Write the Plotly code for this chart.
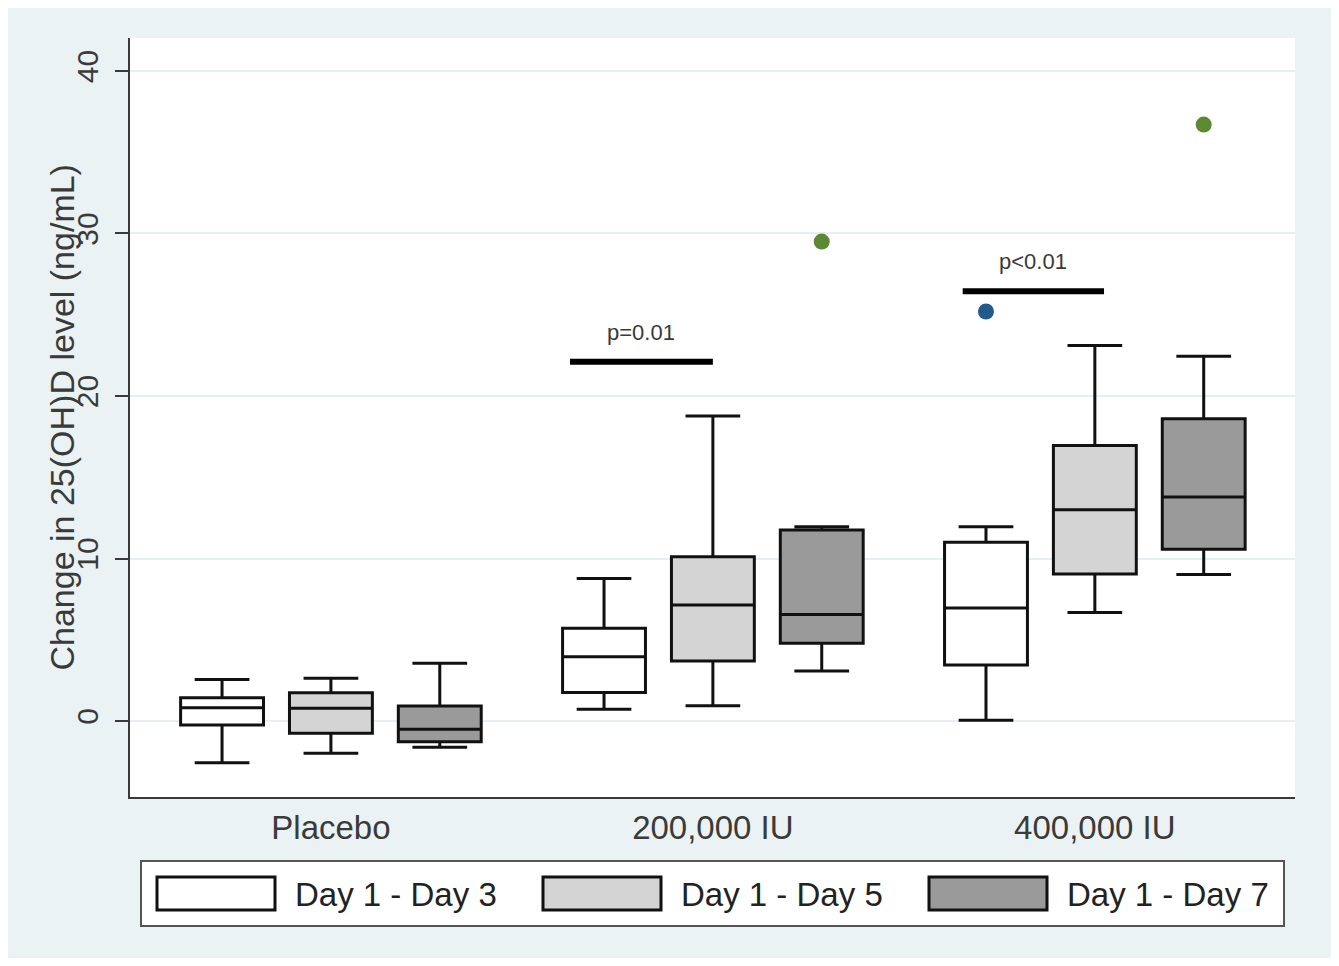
import plotly.graph_objects as go

# ---------------- data ----------------
groups = ["Placebo", "200,000 IU", "400,000 IU"]
series = ["Day 1 - Day 3", "Day 1 - Day 5", "Day 1 - Day 7"]
series_fill = ["#ffffff", "#d4d4d4", "#9a9a9a"]
series_outlier_color = ["#235a8c", "#90353b", "#5b8a32"]

day3_lower = [-2.57, 0.72, 0.05]
day3_q1 = [-0.25, 1.76, 3.45]
day3_median = [0.82, 3.96, 6.95]
day3_q3 = [1.43, 5.70, 11.0]
day3_upper = [2.56, 8.77, 11.95]

day5_lower = [-1.99, 0.94, 6.68]
day5_q1 = [-0.76, 3.69, 9.05]
day5_median = [0.78, 7.14, 13.0]
day5_q3 = [1.74, 10.11, 16.95]
day5_upper = [2.63, 18.77, 23.1]

day7_lower = [-1.62, 3.08, 9.02]
day7_q1 = [-1.27, 4.78, 10.57]
day7_median = [-0.51, 6.56, 13.78]
day7_q3 = [0.92, 11.75, 18.6]
day7_upper = [3.55, 11.96, 22.45]

# outliers: series index, group index, value
outlier_series = [2, 0, 2]
outlier_group = [1, 2, 2]
outlier_value = [29.5, 25.2, 36.7]

# significance bars (x in group units)
sig_x0 = [0.626, 1.654]
sig_x1 = [1.0, 2.024]
sig_y = [22.1, 26.45]
sig_label = ["p=0.01", "p<0.01"]
sig_label_y = [23.9, 28.25]

y_ticks = [0, 10, 20, 30, 40]
y_title = "Change in 25(OH)D level (ng/mL)"

# ---------------- layout constants ----------------
W, H = 1339, 966
ML, MR, MT, MB = 130, 44, 38, 169
PW, PH = W - ML - MR, H - MT - MB
offsets = [-0.285, 0.0, 0.285]
box_width = 0.217
FONT = "Liberation Sans, Arial, sans-serif"
TXT = "#3a3a3a"


def px(xp):
    return (xp - ML) / PW


def py(yp):
    return (H - MB - yp) / PH


stats = [
    (day3_lower, day3_q1, day3_median, day3_q3, day3_upper),
    (day5_lower, day5_q1, day5_median, day5_q3, day5_upper),
    (day7_lower, day7_q1, day7_median, day7_q3, day7_upper),
]

fig = go.Figure()
for i, name in enumerate(series):
    lo, q1, med, q3, up = stats[i]
    fig.add_trace(go.Box(
        name=name,
        x=[g + offsets[i] for g in range(len(groups))],
        lowerfence=lo, q1=q1, median=med, q3=q3, upperfence=up,
        width=box_width, whiskerwidth=0.66,
        fillcolor=series_fill[i],
        line=dict(color="#111111", width=3),
        boxpoints=False, showlegend=False, hoverinfo="skip",
    ))

fig.add_trace(go.Scatter(
    x=[outlier_group[k] + offsets[outlier_series[k]] for k in range(len(outlier_value))],
    y=outlier_value, mode="markers",
    marker=dict(size=16, color=[series_outlier_color[s] for s in outlier_series]),
    showlegend=False, hoverinfo="skip",
))

for k in range(len(sig_y)):
    fig.add_trace(go.Scatter(
        x=[sig_x0[k], sig_x1[k]], y=[sig_y[k], sig_y[k]], mode="lines",
        line=dict(color="#000000", width=6), showlegend=False, hoverinfo="skip",
    ))
    fig.add_annotation(
        x=(sig_x0[k] + sig_x1[k]) / 2, y=sig_label_y[k], text=sig_label[k],
        showarrow=False, font=dict(size=22, color=TXT, family=FONT),
        xanchor="center", yanchor="middle",
    )

# y-axis title (placed close to axis, Stata style)
fig.add_annotation(
    xref="paper", yref="paper", x=px(61), y=0.5, text=y_title, textangle=-90,
    showarrow=False, xanchor="center", yanchor="middle",
    font=dict(size=34, color=TXT, family=FONT),
)

# manual legend (Stata style)
shapes = []
shapes.append(dict(type="rect", xref="paper", yref="paper",
                   x0=px(141), x1=px(1284), y0=py(926), y1=py(861),
                   fillcolor="#ffffff", line=dict(color="#555555", width=2), layer="above"))
leg_step = 386
for i, name in enumerate(series):
    sx = 157 + i * leg_step
    shapes.append(dict(type="rect", xref="paper", yref="paper",
                       x0=px(sx), x1=px(sx + 118), y0=py(910), y1=py(877),
                       fillcolor=series_fill[i], line=dict(color="#111111", width=3), layer="above"))
    fig.add_annotation(xref="paper", yref="paper", x=px(sx + 136), y=py(894),
                       text=name, showarrow=False, xanchor="left", yanchor="middle",
                       font=dict(size=33, color="#222222", family=FONT))

# white outer frame
shapes.append(dict(type="rect", xref="paper", yref="paper",
                   x0=px(0), x1=px(W), y0=py(H), y1=py(0),
                   fillcolor="rgba(0,0,0,0)", line=dict(color="#ffffff", width=16), layer="above"))

fig.update_layout(
    width=W, height=H,
    margin=dict(l=ML, r=MR, t=MT, b=MB),
    paper_bgcolor="#eaf2f3", plot_bgcolor="#ffffff",
    boxmode="overlay",
    shapes=shapes,
    font=dict(family=FONT, color=TXT),
    xaxis=dict(
        range=[-0.526, 2.524], tickmode="array", tickvals=list(range(len(groups))),
        ticktext=groups, ticks="", showgrid=False, zeroline=False,
        showline=True, linecolor="#3a3a3a", linewidth=2,
        tickfont=dict(size=33, color=TXT, family=FONT), ticklabelstandoff=0,
    ),
    yaxis=dict(
        range=[-4.677, 42.03], tickmode="array", tickvals=y_ticks,
        ticks="outside", ticklen=13, tickwidth=2, tickcolor="#3a3a3a",
        tickangle=-90, tickfont=dict(size=30, color=TXT, family=FONT),
        showgrid=True, gridcolor="#e6eff1", gridwidth=2, zeroline=False,
        showline=True, linecolor="#3a3a3a", linewidth=2,
        ticklabelstandoff=5,
    ),
)

fig.write_html("out.html")
